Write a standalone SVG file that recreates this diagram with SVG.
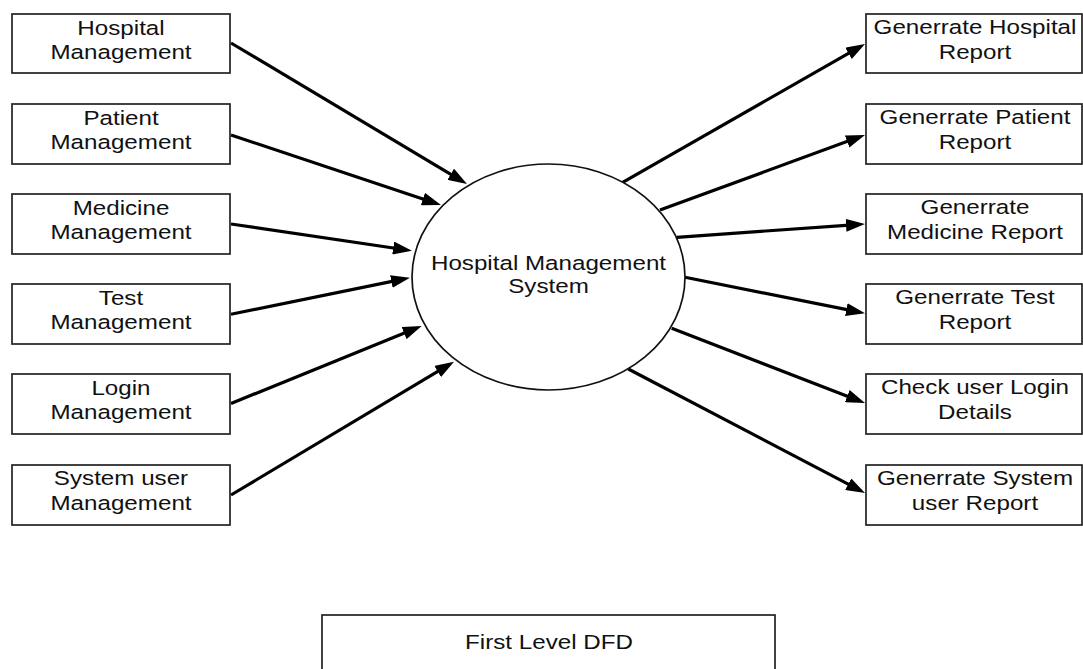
<svg xmlns="http://www.w3.org/2000/svg" width="1083" height="669" viewBox="0 0 1083 669">
<style>
.box{fill:#fff;stroke:#222;stroke-width:1.7}
.lbl{font-family:"Liberation Sans",Arial,sans-serif;font-size:19.5px;fill:#111;text-anchor:middle}
.flow{stroke:#000;stroke-width:3.2;fill:none;marker-end:url(#ah)}
</style>
<defs>
<marker id="ah" markerUnits="userSpaceOnUse" markerWidth="19" markerHeight="13" refX="7" refY="6.5" orient="auto">
<path d="M0,0 L19,6.5 L0,13 z" fill="#000"/>
</marker>
</defs>
<rect width="1083" height="669" fill="#fff"/>

<g id="connectors">
<line class="flow" x1="231" y1="43" x2="456.7" y2="177.8"/>
<line class="flow" x1="231" y1="135" x2="429.6" y2="201.2"/>
<line class="flow" x1="231" y1="224" x2="400.1" y2="249"/>
<line class="flow" x1="231" y1="314.3" x2="398.2" y2="280.1"/>
<line class="flow" x1="231" y1="403.5" x2="410.6" y2="330.5"/>
<line class="flow" x1="231" y1="495" x2="443.7" y2="367.9"/>
<line class="flow" x1="622.7" y1="182.3" x2="854.6" y2="49.9"/>
<line class="flow" x1="660" y1="210" x2="853.7" y2="139.1"/>
<line class="flow" x1="676.7" y1="237.3" x2="853" y2="224.8"/>
<line class="flow" x1="685" y1="277.3" x2="853.2" y2="310.9"/>
<line class="flow" x1="671.7" y1="328.3" x2="853.8" y2="398.7"/>
<line class="flow" x1="628.3" y1="369" x2="854.4" y2="487.4"/>
</g>

<g id="hms">
<ellipse cx="548.5" cy="277" rx="136.5" ry="113" fill="#fff" stroke="#111" stroke-width="1.7"/>
<text class="lbl" transform="translate(548.5,269.5) scale(1.24,1)"><tspan x="0" y="0">Hospital Management</tspan><tspan x="0" y="24">System</tspan></text>
</g>

<g id="hospital-management">
<rect class="box" x="12" y="14" width="218" height="59"/>
<text class="lbl" transform="translate(121,34.5) scale(1.24,1)"><tspan x="0" y="0">Hospital</tspan><tspan x="0" y="25">Management</tspan></text>
</g>
<g id="patient-management">
<rect class="box" x="12" y="104" width="218" height="60"/>
<text class="lbl" transform="translate(121,124.5) scale(1.24,1)"><tspan x="0" y="0">Patient</tspan><tspan x="0" y="25">Management</tspan></text>
</g>
<g id="medicine-management">
<rect class="box" x="12" y="194" width="218" height="60"/>
<text class="lbl" transform="translate(121,214.5) scale(1.24,1)"><tspan x="0" y="0">Medicine</tspan><tspan x="0" y="25">Management</tspan></text>
</g>
<g id="test-management">
<rect class="box" x="12" y="284" width="218" height="60"/>
<text class="lbl" transform="translate(121,304.5) scale(1.24,1)"><tspan x="0" y="0">Test</tspan><tspan x="0" y="25">Management</tspan></text>
</g>
<g id="login-management">
<rect class="box" x="12" y="374" width="218" height="60"/>
<text class="lbl" transform="translate(121,394.5) scale(1.24,1)"><tspan x="0" y="0">Login</tspan><tspan x="0" y="25">Management</tspan></text>
</g>
<g id="system-user-management">
<rect class="box" x="12" y="465" width="218" height="60"/>
<text class="lbl" transform="translate(121,485) scale(1.24,1)"><tspan x="0" y="0">System user</tspan><tspan x="0" y="25">Management</tspan></text>
</g>

<g id="hospital-report">
<rect class="box" x="866" y="14" width="216" height="59"/>
<text class="lbl" transform="translate(975,34) scale(1.24,1)"><tspan x="0" y="0">Generrate Hospital</tspan><tspan x="0" y="25">Report</tspan></text>
</g>
<g id="patient-report">
<rect class="box" x="866" y="104" width="216" height="60"/>
<text class="lbl" transform="translate(975,124) scale(1.24,1)"><tspan x="0" y="0">Generrate Patient</tspan><tspan x="0" y="25">Report</tspan></text>
</g>
<g id="medicine-report">
<rect class="box" x="866" y="194" width="216" height="60"/>
<text class="lbl" transform="translate(975,214) scale(1.24,1)"><tspan x="0" y="0">Generrate</tspan><tspan x="0" y="25">Medicine Report</tspan></text>
</g>
<g id="test-report">
<rect class="box" x="866" y="284" width="216" height="60"/>
<text class="lbl" transform="translate(975,304) scale(1.24,1)"><tspan x="0" y="0">Generrate Test</tspan><tspan x="0" y="25">Report</tspan></text>
</g>
<g id="login-details">
<rect class="box" x="866" y="374" width="216" height="60"/>
<text class="lbl" transform="translate(975,394) scale(1.24,1)"><tspan x="0" y="0">Check user Login</tspan><tspan x="0" y="25">Details</tspan></text>
</g>
<g id="system-user-report">
<rect class="box" x="866" y="465" width="216" height="60"/>
<text class="lbl" transform="translate(975,485) scale(1.24,1)"><tspan x="0" y="0">Generrate System</tspan><tspan x="0" y="25">user Report</tspan></text>
</g>

<g id="title">
<rect class="box" x="322" y="615" width="453" height="70"/>
<text class="lbl" transform="translate(549,649) scale(1.24,1)">First Level DFD</text>
</g>
</svg>
